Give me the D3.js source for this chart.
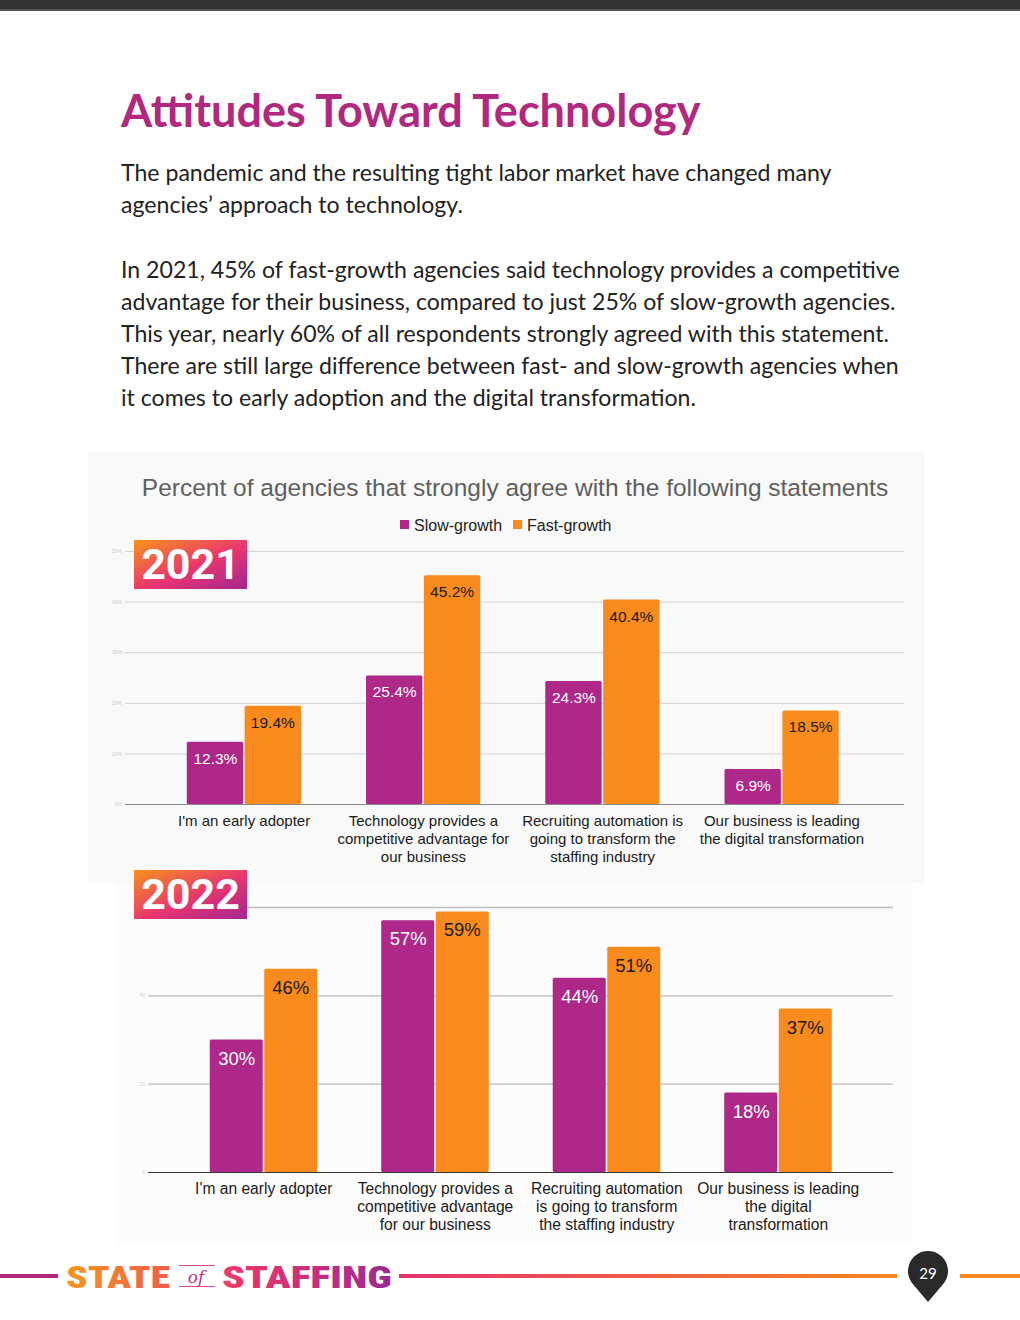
<!DOCTYPE html>
<html>
<head>
<meta charset="utf-8">
<script src="https://cdn.jsdelivr.net/npm/d3@7"></script>
<style>
  body { margin: 0; background: #fff; }
  svg { display: block; }
</style>
</head>
<body>
<script>
const W = 1020, H = 1320;

// data
const series = ["Slow-growth", "Fast-growth"];
const cats2021 = [
  ["I'm an early adopter"],
  ["Technology provides a", "competitive advantage for", "our business"],
  ["Recruiting automation is", "going to transform the", "staffing industry"],
  ["Our business is leading", "the digital transformation"]
];
const slow2021 = [12.3, 25.4, 24.3, 6.9];
const fast2021 = [19.4, 45.2, 40.4, 18.5];
const ticks2021 = [0, 10, 20, 30, 40, 50];

const cats2022 = [
  ["I'm an early adopter"],
  ["Technology provides a", "competitive advantage", "for our business"],
  ["Recruiting automation", "is going to transform", "the staffing industry"],
  ["Our business is leading", "the digital", "transformation"]
];
const slow2022 = [30, 57, 44, 18];
const fast2022 = [46, 59, 51, 37];
const ticks2022 = [0, 20, 40, 60];

const purple = "#ad2888", orange = "#f98b1d";

const svg = d3.select("body").append("svg")
  .attr("width", W).attr("height", H);

const defs = svg.append("defs");
const badgeGrad = defs.append("linearGradient").attr("id", "badge")
  .attr("x1", "0").attr("y1", "0").attr("x2", "1").attr("y2", "1");
badgeGrad.append("stop").attr("offset", "0").attr("stop-color", "#f8931c");
badgeGrad.append("stop").attr("offset", "0.55").attr("stop-color", "#e83570");
badgeGrad.append("stop").attr("offset", "1").attr("stop-color", "#a2278f");

const logoGrad = defs.append("linearGradient").attr("id", "logo")
  .attr("gradientUnits", "userSpaceOnUse")
  .attr("x1", 66).attr("y1", 0).attr("x2", 392).attr("y2", 0);
logoGrad.append("stop").attr("offset", "0").attr("stop-color", "#f7961c");
logoGrad.append("stop").attr("offset", "0.55").attr("stop-color", "#e8346f");
logoGrad.append("stop").attr("offset", "1").attr("stop-color", "#9c2a90");

const lineGrad = defs.append("linearGradient").attr("id", "rule")
  .attr("gradientUnits", "userSpaceOnUse")
  .attr("x1", 399).attr("y1", 0).attr("x2", 897).attr("y2", 0);
lineGrad.append("stop").attr("offset", "0").attr("stop-color", "#e5336c");
lineGrad.append("stop").attr("offset", "1").attr("stop-color", "#f7861f");

// top dark strip
svg.append("rect").attr("x", 0).attr("y", 0).attr("width", W).attr("height", 10).attr("fill", "#333");
svg.append("rect").attr("x", 0).attr("y", 9).attr("width", W).attr("height", 2).attr("fill", "#555");

// title + intro
svg.append("rect").attr("x", 95).attr("y", 78).attr("width", 810).attr("height", 84).attr("fill", "#fdfdfd");
svg.append("text").attr("x", 121).attr("y", 127)
  .attr("font-family", "Lato").attr("font-weight", 700).attr("font-size", 45)
  .attr("fill", "#b1287f").text("Attitudes Toward Technology");

const intro = [
  ["The pandemic and the resulting tight labor market have changed many", 181],
  ["agencies’ approach to technology.", 213],
  ["In 2021, 45% of fast-growth agencies said technology provides a competitive", 278],
  ["advantage for their business, compared to just 25% of slow-growth agencies.", 310],
  ["This year, nearly 60% of all respondents strongly agreed with this statement.", 342],
  ["There are still large difference between fast- and slow-growth agencies when", 374],
  ["it comes to early adoption and the digital transformation.", 406]
];
svg.append("g").selectAll("text").data(intro).join("text")
  .attr("x", 121).attr("y", d => d[1])
  .attr("font-family", "Lato").attr("font-size", 23.1).attr("fill", "#222")
  .text(d => d[0]);

// chart panels
svg.append("rect").attr("x", 88).attr("y", 452).attr("width", 837).attr("height", 431).attr("fill", "#f9f9f9");
svg.append("rect").attr("x", 117).attr("y", 883).attr("width", 796).attr("height", 362).attr("fill", "#fcfcfc");

svg.append("text").attr("x", 515).attr("y", 496).attr("text-anchor", "middle")
  .attr("font-family", "Liberation Sans, Arial").attr("font-size", 24.5).attr("fill", "#5f5f5f")
  .text("Percent of agencies that strongly agree with the following statements");

// legend
const legend = svg.append("g").attr("font-family", "Liberation Sans, Arial").attr("font-size", 16).attr("fill", "#222");
const legX = [400, 513];
series.forEach((s, i) => {
  legend.append("rect").attr("x", legX[i]).attr("y", 520).attr("width", 9).attr("height", 9)
    .attr("fill", i === 0 ? purple : orange);
  legend.append("text").attr("x", legX[i] + 14).attr("y", 531).text(s);
});

function drawChart(o) {
  const x = d3.scaleBand().domain(d3.range(o.slow.length))
    .range(o.xr).paddingInner(o.pad).paddingOuter(o.pad / 2);
  const sub = d3.scaleBand().domain([0, 1]).range([0, x.bandwidth()]);
  const y = d3.scaleLinear().domain(o.ydom).range(o.yr);

  const g = svg.append("g");
  const grid = g.append("g").attr("transform", `translate(${o.gx[1]},0)`)
    .call(d3.axisLeft(y).tickValues(o.ticks).tickSize(o.gx[1] - o.gx[0]).tickFormat(o.fmt));
  grid.select(".domain").remove();
  grid.selectAll(".tick line").attr("stroke", o.gridColor).attr("stroke-width", o.gridW);
  grid.selectAll(".tick text").attr("font-size", 5).attr("fill", "#ccc").attr("x", -(o.gx[1] - o.gx[0]) - 3)
    .attr("font-family", "Liberation Sans, Arial");
  grid.selectAll(".tick").filter(d => d === 0).select("line").attr("stroke", o.baseColor).attr("stroke-width", 1.2);

  const rows = o.slow.map((v, i) => [{i, k: 0, v}, {i, k: 1, v: o.fast[i]}]).flat();
  g.append("g").selectAll("rect").data(rows).join("rect")
    .attr("x", d => x(d.i) + sub(d.k) + (d.k ? 0.5 : 0))
    .attr("y", d => y(d.v))
    .attr("width", sub.bandwidth() - 1)
    .attr("height", d => y(0) - y(d.v))
    .attr("rx", 1.5)
    .attr("fill", d => d.k ? orange : purple);

  g.append("g").selectAll("text").data(rows).join("text")
    .attr("x", d => x(d.i) + sub(d.k) + sub.bandwidth() / 2)
    .attr("y", d => y(d.v) + o.labDy)
    .attr("text-anchor", "middle")
    .attr("font-family", "Liberation Sans, Arial").attr("font-size", o.labSize)
    .attr("fill", d => d.k ? "#1a1a1a" : "#fff")
    .text(d => o.valFmt(d.v));

  const xa = g.append("g").attr("transform", `translate(0,${o.yr[0]})`)
    .call(d3.axisBottom(x).tickSize(0).tickFormat(""));
  xa.select(".domain").remove();
  xa.selectAll(".tick").each(function(i) {
    const t = d3.select(this).append("text")
      .attr("text-anchor", "middle").attr("fill", "#1a1a1a")
      .attr("font-family", "Liberation Sans, Arial").attr("font-size", o.catSize);
    o.cats[i].forEach((line, j) => {
      t.append("tspan").attr("x", 0).attr("y", o.catY + j * 18).text(line);
    });
  });

  // year badge
  svg.append("rect").attr("x", 134).attr("y", o.badgeY).attr("width", 113).attr("height", 49).attr("fill", "url(#badge)");
  svg.append("text").attr("x", 190.5).attr("y", o.badgeY + 39).attr("text-anchor", "middle")
    .attr("font-family", "Roboto").attr("font-weight", 700).attr("font-size", 43).attr("fill", "#fff")
    .text(o.year);
}

drawChart({
  slow: slow2021, fast: fast2021, cats: cats2021, ticks: ticks2021,
  xr: [154.5, 871.5], pad: 0.36, ydom: [0, 50], yr: [804, 551], gx: [125, 904],
  gridColor: "#d3d3d3", gridW: 1, baseColor: "#888",
  fmt: d => d + "%", valFmt: v => v.toFixed(1) + "%",
  labDy: 22, labSize: 15.5, catSize: 15, catY: 22, badgeY: 540, year: "2021"
});

// the 60 label sits behind the 2022 badge in the reference, so it is left blank
drawChart({
  slow: slow2022, fast: fast2022, cats: cats2022, ticks: ticks2022,
  xr: [178, 864], pad: 0.37, ydom: [0, 60], yr: [1172, 907], gx: [148, 893],
  gridColor: "#bdbdbd", gridW: 1.3, baseColor: "#333",
  fmt: d => d === 60 ? "" : d, valFmt: v => v + "%",
  labDy: 25, labSize: 18.5, catSize: 15.6, catY: 22, badgeY: 870, year: "2022"
});

// footer
svg.append("rect").attr("x", 0).attr("y", 1274).attr("width", 58).attr("height", 4).attr("fill", "#b1287f");
svg.append("rect").attr("x", 399).attr("y", 1274).attr("width", 498).attr("height", 4).attr("fill", "url(#rule)");
svg.append("rect").attr("x", 960).attr("y", 1274).attr("width", 60).attr("height", 4).attr("fill", "#f7891e");

const logo = svg.append("g").attr("fill", "url(#logo)")
  .attr("font-family", "Roboto Condensed, Roboto").attr("font-weight", 900).attr("font-size", 31);
logo.append("text").attr("x", 66).attr("y", 1288).attr("textLength", 104).attr("lengthAdjust", "spacingAndGlyphs").text("STATE");
logo.append("text").attr("x", 222).attr("y", 1288).attr("textLength", 170).attr("lengthAdjust", "spacingAndGlyphs").text("STAFFING");
logo.append("rect").attr("x", 179).attr("y", 1265).attr("width", 36).attr("height", 1).attr("fill", "#d84a8a");
logo.append("rect").attr("x", 179).attr("y", 1286).attr("width", 36).attr("height", 1).attr("fill", "#d84a8a");
logo.append("text").attr("x", 196).attr("y", 1283).attr("text-anchor", "middle")
  .attr("font-family", "DejaVu Serif").attr("font-style", "italic").attr("font-weight", 400).attr("font-size", 17)
  .attr("fill", "#c0307f").text("of");

// page pin
svg.append("path")
  .attr("d", "M928,1302 L912,1283 A20,20 0 1 1 944,1283 Z")
  .attr("fill", "#2a2a2a");
svg.append("text").attr("x", 928).attr("y", 1279).attr("text-anchor", "middle")
  .attr("font-family", "Lato").attr("font-size", 15).attr("fill", "#fff").text("29");
</script>
</body>
</html>
